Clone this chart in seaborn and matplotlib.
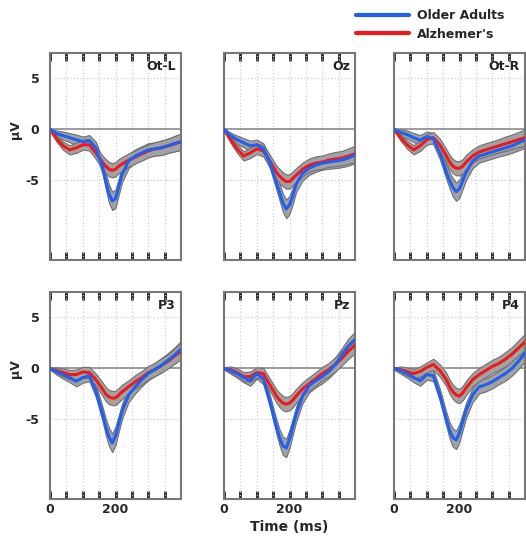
import numpy as np
import pandas as pd
import matplotlib
matplotlib.use("Agg")
import matplotlib.pyplot as plt
import seaborn as sns
from matplotlib.lines import Line2D

sns.set_style("white")
plt.rcParams['font.family'] = ['DejaVu Sans']

time_ms = [0, 20, 40, 60, 80, 100, 120, 140, 160, 170, 180, 190, 200, 210, 220,
           240, 260, 280, 300, 320, 340, 360, 380, 400]

channels = ["Ot-L", "Oz", "Ot-R", "P3", "Pz", "P4"]

older_otl = [0, -0.4, -0.6, -0.8, -1.0, -1.2, -1.1, -1.8, -3.6, -5.0, -6.3, -7.0, -6.8, -5.6, -4.4,
             -3.1, -2.6, -2.3, -2.0, -1.9, -1.8, -1.6, -1.4, -1.2]
ad_otl = [0, -0.9, -1.6, -2.0, -1.8, -1.5, -1.5, -2.3, -3.2, -3.6, -3.9, -4.0, -3.9, -3.6, -3.4,
          -3.0, -2.7, -2.4, -2.1, -1.9, -1.8, -1.6, -1.4, -1.2]
older_oz = [0, -0.6, -1.0, -1.3, -1.6, -1.5, -1.9, -3.2, -5.2, -6.2, -7.2, -7.8, -7.4, -6.5, -5.4,
            -4.3, -3.8, -3.5, -3.3, -3.2, -3.1, -3.0, -2.8, -2.5]
ad_oz = [0, -1.0, -1.9, -2.6, -2.3, -1.9, -2.1, -3.1, -4.2, -4.6, -4.9, -5.1, -5.1, -4.8, -4.5,
         -3.9, -3.5, -3.3, -3.2, -3.0, -2.9, -2.8, -2.6, -2.4]
older_otr = [0, -0.3, -0.5, -0.8, -1.05, -0.7, -0.9, -2.3, -4.2, -5.0, -5.7, -6.1, -5.8, -5.0, -4.2,
             -3.1, -2.6, -2.4, -2.2, -2.0, -1.8, -1.6, -1.3, -1.0]
ad_otr = [0, -0.8, -1.5, -2.0, -1.6, -1.0, -0.8, -1.5, -2.6, -3.2, -3.6, -3.8, -3.8, -3.6, -3.2,
          -2.6, -2.2, -2.0, -1.8, -1.6, -1.4, -1.2, -1.0, -0.8]
older_p3 = [0, -0.3, -0.6, -0.9, -1.25, -0.9, -0.7, -2.2, -4.4, -5.7, -6.7, -7.3, -6.6, -5.4, -4.2,
            -2.6, -1.8, -1.1, -0.5, -0.1, 0.3, 0.8, 1.3, 1.9]
ad_p3 = [0, -0.2, -0.4, -0.6, -0.6, -0.35, -0.4, -1.1, -2.0, -2.5, -2.8, -2.9, -2.9, -2.6, -2.3,
         -1.8, -1.3, -0.9, -0.4, -0.1, 0.3, 0.7, 1.2, 1.7]
older_pz = [0, -0.2, -0.5, -0.9, -1.2, -0.5, -1.0, -3.2, -5.7, -6.8, -7.6, -7.8, -6.9, -5.7, -4.5,
            -2.7, -1.7, -1.2, -0.8, -0.3, 0.4, 1.3, 2.2, 2.8]
ad_pz = [0, -0.1, -0.4, -0.8, -0.8, -0.4, -0.5, -1.6, -2.7, -3.1, -3.4, -3.5, -3.4, -3.1, -2.7,
         -2.0, -1.5, -1.0, -0.5, -0.1, 0.4, 1.0, 1.7, 2.3]
older_p4 = [0, -0.2, -0.5, -0.9, -1.2, -0.6, -0.7, -2.6, -5.0, -6.1, -6.8, -7.0, -6.3, -5.2, -4.1,
            -2.6, -1.8, -1.6, -1.3, -0.9, -0.5, 0.0, 0.7, 1.5]
ad_p4 = [0, -0.1, -0.3, -0.5, -0.3, 0.1, 0.4, -0.2, -1.1, -1.8, -2.3, -2.6, -2.7, -2.4, -1.9,
         -1.1, -0.6, -0.2, 0.2, 0.5, 0.9, 1.4, 2.0, 2.6]

se_older = [0.1, 0.3, 0.4, 0.45, 0.5, 0.5, 0.55, 0.6, 0.7, 0.8, 0.9, 0.9, 0.9, 0.8, 0.75,
            0.7, 0.65, 0.65, 0.65, 0.65, 0.7, 0.7, 0.75, 0.8]
se_ad = [0.1, 0.3, 0.4, 0.45, 0.5, 0.5, 0.55, 0.6, 0.65, 0.7, 0.7, 0.7, 0.7, 0.7, 0.7,
         0.65, 0.65, 0.65, 0.65, 0.65, 0.7, 0.7, 0.75, 0.8]

older = [older_otl, older_oz, older_otr, older_p3, older_pz, older_p4]
ad = [ad_otl, ad_oz, ad_otr, ad_p3, ad_pz, ad_p4]

groups = ["Older Adults", "Alzhemer's"]
colors = {"Older Adults": "#1f5ff2", "Alzhemer's": "#f01818"}

rows = []
for ch, o, a in zip(channels, older, ad):
    for t, vo, va, so, sa in zip(time_ms, o, a, se_older, se_ad):
        rows.append((ch, "Older Adults", t, vo, so))
        rows.append((ch, "Alzhemer's", t, va, sa))
df = pd.DataFrame(rows, columns=["channel", "group", "time", "uv", "se"])

W, H = 526, 537
fig = plt.figure(figsize=(W / 100, H / 100), dpi=100)

lefts = [50, 224, 394]
tops = [53, 292]
aw, ah = 131, 207

axes = []
for r in range(2):
    for c in range(3):
        ax = fig.add_axes([lefts[c] / W, 1 - (tops[r] + ah) / H, aw / W, ah / H])
        axes.append(ax)

for i, (ax, ch) in enumerate(zip(axes, channels)):
    sub = df[df.channel == ch]
    for g in groups:
        s = sub[sub.group == g]
        ax.fill_between(s.time, s.uv - s.se, s.uv + s.se, color="#a2a2a2",
                        edgecolor="#707070", lw=0.8, zorder=2)
    sns.lineplot(data=sub, x="time", y="uv", hue="group", hue_order=groups[::-1],
                 palette=colors, lw=2.2, ax=ax, legend=False, zorder=3)
    ax.set_xlim(0, 400)
    ax.set_ylim(-12.8, 7.5)
    for xv in range(50, 400, 50):
        ax.axvline(xv, color="#c8c8c8", lw=0.8, ls=(0, (1, 2)), zorder=1)
    for yv in (5, -5):
        ax.axhline(yv, color="#c8c8c8", lw=0.8, ls=(0, (1, 2)), zorder=1)
    ax.axhline(0, color="#8a8a8a", lw=1.2, zorder=1)
    for sp in ax.spines.values():
        sp.set_color("#777777")
        sp.set_linewidth(1.5)
    xt = list(range(0, 400, 50))
    labs = ["0" if t == 0 else ("200" if t == 200 else "") for t in xt]
    ax.set_xticks(xt)
    ax.set_yticks([5, 0, -5])
    ax.tick_params(axis="x", direction="in", top=True, bottom=True, length=6,
                   width=2, color="#222222", labelsize=9, pad=3)
    ax.tick_params(axis="y", left=False, right=False, labelsize=9, pad=4)
    if i >= 3:
        ax.set_xticklabels(labs, fontweight="bold")
    else:
        ax.set_xticklabels([])
    if i % 3 == 0:
        ax.set_yticklabels(["5", "0", "-5"], fontweight="bold")
        ax.set_ylabel("μV", fontweight="bold", fontsize=9)
        ax.yaxis.set_label_coords(-0.21, 12.8 / 20.3)
    else:
        ax.set_yticklabels([])
        ax.set_ylabel("")
    ax.set_xlabel("")
    ax.text(0.96, 0.965, ch, transform=ax.transAxes, ha="right", va="top",
            fontsize=9, fontweight="bold", color="#222222")

axes[4].set_xlabel("Time (ms)", fontweight="bold", fontsize=10, labelpad=3)

handles = [Line2D([0], [0], color=colors[g], lw=3) for g in groups]
fig.legend(handles, groups, loc="upper left", bbox_to_anchor=(356 / W, 1 - 9 / H),
           frameon=False, handlelength=4.2, handletextpad=0.7, borderpad=0,
           borderaxespad=0, labelspacing=0.45, prop={"weight": "bold", "size": 9})

fig.savefig("out.png", dpi=100)
